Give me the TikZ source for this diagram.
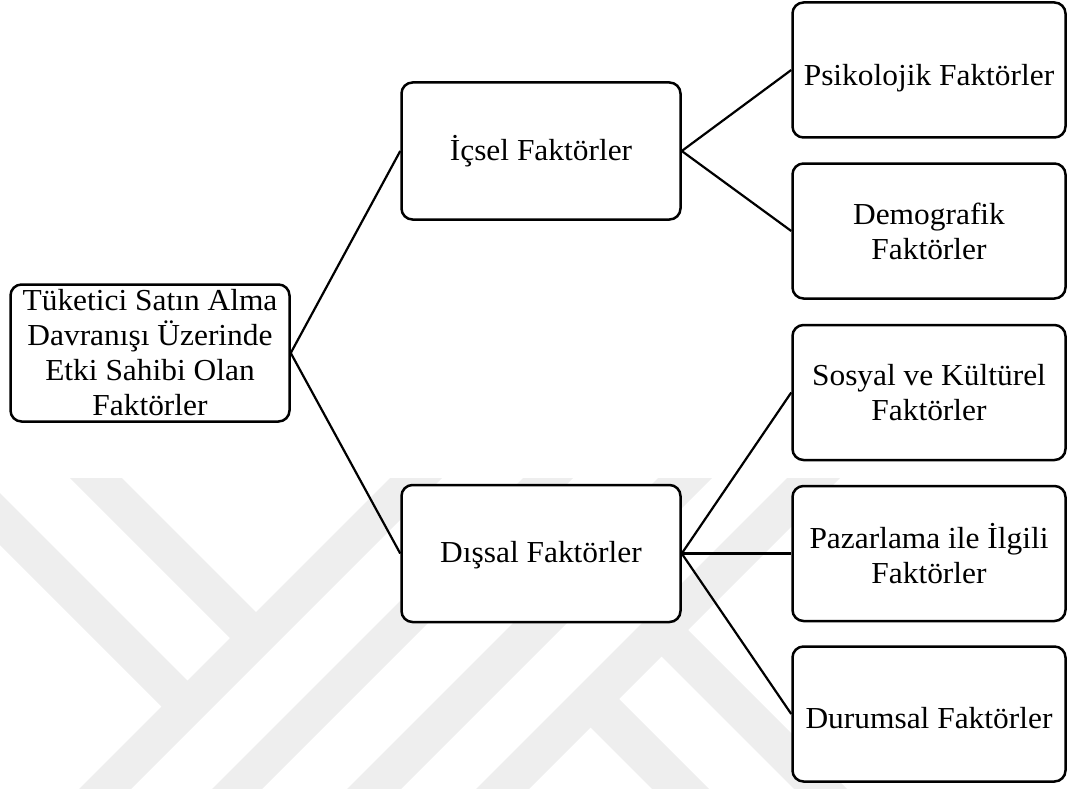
\documentclass[tikz,border=0pt]{standalone}
\usepackage{fontspec}
\setmainfont{Liberation Serif}[FakeStretch=1.03]
\definecolor{wmgray}{RGB}{238,238,238}
\begin{document}
\begin{tikzpicture}[x=1pt,y=-1pt,
  box/.style={draw, line width=2.5pt, rounded corners=11pt, fill=white, align=center,
              inner sep=0pt, font=\fontsize{30.5}{35}\selectfont},
  midbox/.style={box, minimum width=279pt, minimum height=137pt},
  rbox/.style={box, minimum width=273pt, minimum height=135pt},
  link/.style={line width=2.2pt},
  wm/.style={fill=wmgray, draw=none}]
\useasboundingbox (0,0) rectangle (1068,789);
% faint watermark
\begin{scope}
  \clip (0,478) rectangle (1068,789);
  \fill[wm] (-20,473) -- (197.5,690.5) -- (171.5,716.5) -- (-20,525) -- cycle;
  \fill[wm] (62,470) -- (114,470) -- (266,622) -- (240,648) -- cycle;
  \fill[wm] (398,470) -- (450,470) -- (120,800) -- (68,800) -- cycle;
  \fill[wm] (531,470) -- (581,470) -- (251,800) -- (201,800) -- cycle;
  \fill[wm] (666,470) -- (720,470) -- (390,800) -- (336,800) -- cycle;
  \fill[wm] (795,470) -- (848,470) -- (518,800) -- (465,800) -- cycle;
  \fill[wm] (581.5,718.5) -- (610,690) -- (720,800) -- (663,800) -- cycle;
  \fill[wm] (652.5,647.5) -- (679,621) -- (858,800) -- (805,800) -- cycle;
\end{scope}
% nodes
\node[box, minimum width=279pt, minimum height=137pt] (root) at (150,353)
  {Tüketici Satın Alma\\Davranışı Üzerinde\\Etki Sahibi Olan\\Faktörler};
\node[midbox] (icsel) at (541,151) {İçsel Faktörler};
\node[midbox] (dissal) at (541,553.5) {\raisebox{-2pt}[\height][\depth]{Dışsal Faktörler}};
\node[rbox] (psik) at (929,70) {\raisebox{-8pt}[\height][\depth]{Psikolojik Faktörler}};
\node[rbox] (demo) at (929,231) {Demografik\\Faktörler};
\node[rbox] (sosyal) at (929,392.5) {Sosyal ve Kültürel\\Faktörler};
\node[rbox] (pazar) at (929,553.5) {Pazarlama ile İlgili\\Faktörler};
\node[rbox] (durum) at (929,714) {\raisebox{-4pt}[\height][\depth]{Durumsal Faktörler}};
% connectors
\draw[link] (root.east) -- (icsel.west);
\draw[link] (root.east) -- (dissal.west);
\draw[link] (icsel.east) -- (psik.west);
\draw[link] (icsel.east) -- (demo.west);
\draw[link] (dissal.east) -- (sosyal.west);
\draw[link] (dissal.east) -- (pazar.west);
\draw[link] (dissal.east) -- (durum.west);
\end{tikzpicture}
\end{document}
